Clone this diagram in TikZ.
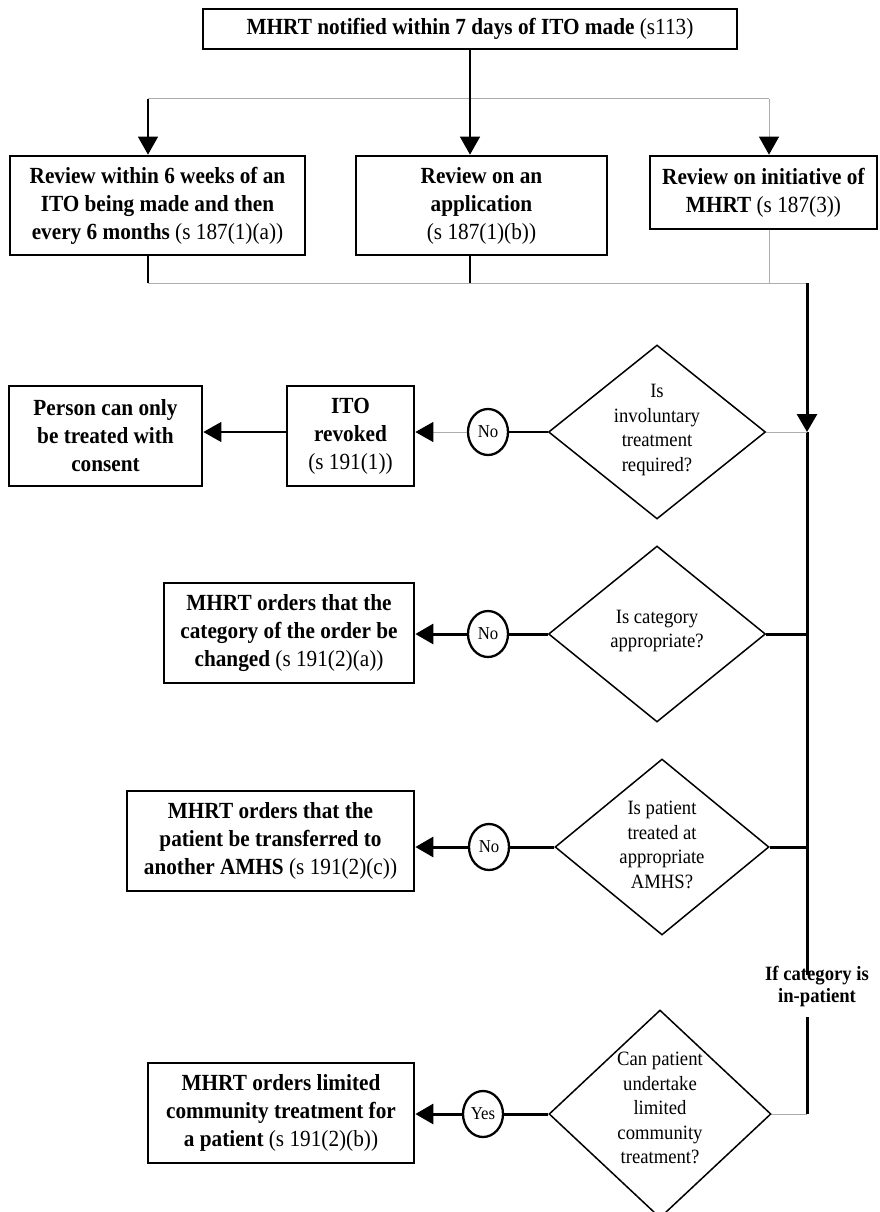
\documentclass[tikz,border=0pt]{standalone}
\usepackage{fontspec}
\setmainfont{Liberation Serif}[FakeStretch=0.92]
\usetikzlibrary{shapes.geometric,arrows.meta}
\begin{document}
\begin{tikzpicture}[x=1pt,y=-1pt,
  box/.style={draw, line width=2.7pt, align=center, inner sep=0pt, font=\fontsize{23.1}{28}\selectfont},
  dia/.style={draw, diamond, line width=1.5pt, inner sep=0pt},
  dtext/.style={align=center, inner sep=0pt, font=\fontsize{20.3}{24.5}\selectfont},
  circ/.style={draw, ellipse, line width=2.3pt, minimum width=40pt, minimum height=46pt, inner sep=0pt, font=\fontsize{18.2}{18}\selectfont},
  thinln/.style={line width=1.2pt},
  thickln/.style={line width=3pt},
  grayln/.style={line width=1pt, draw=black!32},
  arr/.style={-{Triangle[length=18pt,width=20pt,color=black]}},
]
\useasboundingbox (0,0) rectangle (879,1212);

% boxes
\node[box, minimum width=534pt, minimum height=40pt] (top) at (470,29)
  {\textbf{MHRT notified within 7 days of ITO made} (s113)};
\node[box, minimum width=295pt, minimum height=99pt] (b1) at (157.5,205.5)
  {\textbf{Review within 6 weeks of an}\\\textbf{ITO being made and then}\\\textbf{every 6 months} (s 187(1)(a))};
\node[box, minimum width=251pt, minimum height=99pt] (b2) at (481.5,205.5)
  {\textbf{Review on an}\\\textbf{application}\\(s 187(1)(b))};
\node[box, minimum width=227pt, minimum height=73pt] (b3) at (763.5,192.5)
  {\textbf{Review on initiative of}\\\textbf{MHRT} (s 187(3))};
\node[box, minimum width=193pt, minimum height=100pt] (person) at (105.5,436)
  {\textbf{Person can only}\\\textbf{be treated with}\\\textbf{consent}};
\node[box, minimum width=127pt, minimum height=100pt] (ito) at (350.5,436)
  {\textbf{ITO}\\\textbf{revoked}\\(s 191(1))};
\node[box, minimum width=250pt, minimum height=100pt] (cat) at (289,633)
  {\textbf{MHRT orders that the}\\\textbf{category of the order be}\\\textbf{changed} (s 191(2)(a))};
\node[box, minimum width=287pt, minimum height=100pt] (trans) at (270.5,841)
  {\textbf{MHRT orders that the}\\\textbf{patient be transferred to}\\\textbf{another AMHS} (s 191(2)(c))};
\node[box, minimum width=266pt, minimum height=100pt] (lim) at (281,1113)
  {\textbf{MHRT orders limited}\\\textbf{community treatment for}\\\textbf{a patient} (s 191(2)(b))};

% diamonds
\node[dia, minimum width=217pt, minimum height=174pt] (d1) at (657,432) {};
\node[dtext] at (657,430) {Is\\involuntary\\treatment\\required?};
\node[dia, minimum width=217pt, minimum height=176pt] (d2) at (657,634) {};
\node[dtext] at (657,631) {Is category\\appropriate?};
\node[dia, minimum width=214pt, minimum height=176pt] (d3) at (662,847) {};
\node[dtext] at (662,845) {Is patient\\treated at\\appropriate\\AMHS?};
\node[dia, minimum width=222pt, minimum height=208pt] (d4) at (660,1114) {};
\node[dtext] at (660,1108) {Can patient\\undertake\\limited\\community\\treatment?};

% circles
\node[circ] (c1) at (488,432) {No};
\node[circ] (c2) at (488,634) {No};
\node[circ] (c3) at (489,847) {No};
\node[circ] (c4) at (483,1114) {Yes};

% label
\node[align=center, inner sep=0pt, font=\bfseries\fontsize{20.3}{22}\selectfont] (lab) at (817,987) {If category is\\in-patient};

% junction coordinates
\coordinate (jl) at (148,99);
\coordinate (jr) at (769,99);
\coordinate (ml) at (148,283);
\coordinate (sp) at (807,283);
\coordinate (se) at (807,975);
\coordinate (ss) at (807,1017);

% top part
\draw[grayln] (jl) -- (jr);
\draw[thinln, arr] (jl) -- (jl |- b1.north);
\draw[thinln, arr] (top.south) -- (top.south |- b2.north);
\draw[grayln, arr] (jr) -- (jr |- b3.north);
\draw[thinln] (jl |- b1.south) -- (ml);
\draw[thinln] (top.south |- b2.south) -- (top.south |- ml);
\draw[grayln] (jr |- b3.south) -- (jr |- ml);
\draw[grayln] (ml) -- (sp);

% spine
\draw[thickln, arr] (sp) -- (sp |- d1.east);
\draw[thickln] (sp |- d1.east) -- (se);
\draw[thickln] (ss) -- (ss |- d4.east);

% branches to spine
\draw[grayln] (d1.east) -- (sp |- d1.east);
\draw[thickln] (d2.east) -- (sp |- d2.east);
\draw[thickln] (d3.east) -- (sp |- d3.east);
\draw[grayln] (d4.east) -- (ss |- d4.east);

% left branches
\draw[thinln] (d1.west) -- (c1.east);
\draw[grayln, arr] (c1.west) -- (c1.west -| ito.east);
\draw[thinln, arr] (ito.west |- c1.west) -- (person.east |- c1.west);

\draw[thickln] (d2.west) -- (c2.east);
\draw[thickln, arr] (c2.west) -- (c2.west -| cat.east);

\draw[thickln] (d3.west) -- (c3.east);
\draw[thickln, arr] (c3.west) -- (c3.west -| trans.east);

\draw[thickln] (d4.west) -- (c4.east);
\draw[thickln, arr] (c4.west) -- (c4.west -| lim.east);
\end{tikzpicture}
\end{document}
